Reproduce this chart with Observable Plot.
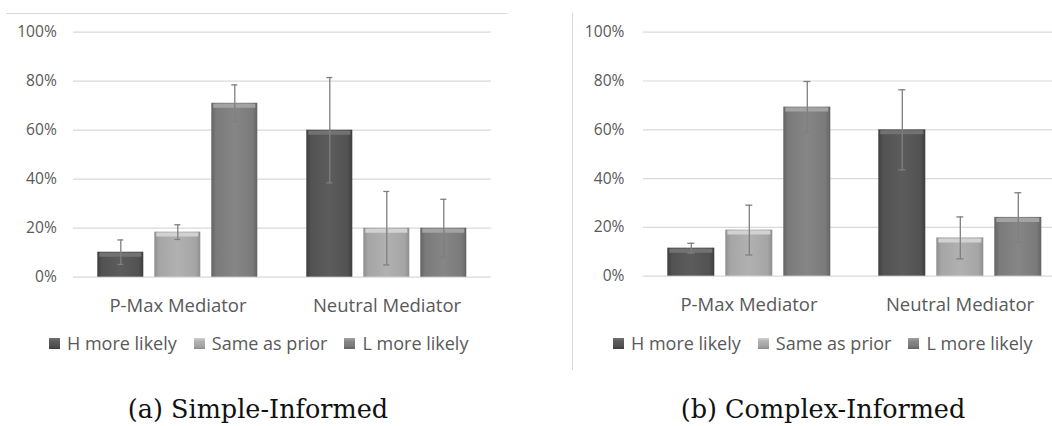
<!DOCTYPE html>
<html>
<head>
<meta charset="utf-8">
<script src="https://cdn.jsdelivr.net/npm/d3@7"></script>
<script src="https://cdn.jsdelivr.net/npm/@observablehq/plot@0.6"></script>
<style>
  html, body { margin: 0; padding: 0; background: #fff; }
  body { width: 1052px; height: 426px; overflow: hidden; position: relative; font-family: 'Open Sans', sans-serif; }
  .panel { position: absolute; top: 0; }
  .panel svg { max-width: none !important; display: block; }
  .frame-h { position: absolute; left: 6px; top: 13px; width: 501px; height: 1px; background: #d9d9d9; }
  .frame-v { position: absolute; left: 572px; top: 13px; width: 1px; height: 357px; background: #d9d9d9; }
  .legend { position: absolute; top: 331px; height: 24px; display: flex; align-items: flex-start; font-size: 18px; line-height: 24px; color: #595959; white-space: nowrap; }
  .legend .item { display: flex; align-items: flex-start; margin-right: 17px; }
  .legend .sw { width: 11px; height: 11px; margin-top: 7px; margin-right: 7px; }
  .caption { position: absolute; top: 394px; width: 420px; text-align: center; font-family: 'DejaVu Serif', serif; font-size: 25.5px; line-height: 30px; color: #111; white-space: nowrap; }
  svg [aria-label^="fx-axis"] text { font-size: 18.5px; }
  svg [aria-label^="y-axis"] text { font-size: 15.6px; }
</style>
</head>
<body>
<div class="frame-h"></div>
<div class="frame-v"></div>
<script>
// ---- data ----
const groups = ["P-Max Mediator", "Neutral Mediator"];
const series = ["H more likely", "Same as prior", "L more likely"];
// values in %, ordered group by group, series within group
const simpleValues = [10.2, 18.4, 71, 60, 20, 20];
const simpleErrors = [5, 3, 7.5, 21.5, 15, 11.8];
const complexValues = [11.5, 18.9, 69.3, 60, 15.7, 24.1];
const complexErrors = [2, 10.2, 10.5, 16.4, 8.6, 10.1];
const yTicks = [0, 20, 40, 60, 80, 100];
const captions = ["(a) Simple-Informed", "(b) Complex-Informed"];

// ---- styles ----
const edgeCol = ["#3e3e3e", "#8e8e8e", "#636363"];
const baseCol = ["#525252", "#a5a5a5", "#7a7a7a"];
const midCol  = ["#5c5c5c", "#b1b1b1", "#868686"];
const bevelCol = ["#727272", "#d2d2d2", "#a3a3a3"];

function rows(values, errors) {
  return groups.flatMap((g, gi) => series.map((s, si) => ({
    group: g, series: s, value: values[gi * 3 + si], err: errors[gi * 3 + si]
  })));
}

function chart(values, errors, m, id) {
  const data = rows(values, errors);
  const fills = series.map((s, i) => `url(#${id}-g${i})`);
  const svg = Plot.plot({
    width: m.width, height: 330,
    marginLeft: m.left, marginRight: m.right, marginTop: m.top, marginBottom: m.bottom,
    style: { fontFamily: "'Open Sans', sans-serif", fontSize: "15.6px", color: "#595959", background: "transparent", overflow: "visible", maxWidth: "none" },
    fx: { domain: groups, padding: 0, axis: "bottom", tickSize: 0, tickPadding: 22, label: null },
    x: { domain: series, paddingInner: 0.185, paddingOuter: m.po, axis: null },
    y: { domain: [0, 100], ticks: yTicks, tickFormat: d => d + "%", tickSize: 0, tickPadding: m.pad, label: null },
    color: { domain: series, range: fills },
    marks: [
      Plot.ruleY(yTicks, { stroke: "#d9d9d9", strokeWidth: 1.2 }),
      Plot.barY(data, { fx: "group", x: "series", y: "value", fill: "series" }),
      ...series.map((s, i) => Plot.tickY(data.filter(d => d.series === s), {
        fx: "group", x: "series", y: "value", stroke: bevelCol[i], strokeWidth: 4, dy: 2.5, inset: 2
      })),
      Plot.ruleX(data, { fx: "group", x: "series", y1: d => d.value - d.err, y2: d => d.value + d.err, stroke: "#7f7f7f", strokeWidth: 1.3 }),
      Plot.tickY(data, { fx: "group", x: "series", y: d => d.value + d.err, stroke: "#7f7f7f", strokeWidth: 1.3, inset: 20 }),
      Plot.tickY(data, { fx: "group", x: "series", y: d => d.value - d.err, stroke: "#7f7f7f", strokeWidth: 1.3, inset: 20 })
    ]
  });
  const defs = series.map((s, i) =>
    `<linearGradient id="${id}-g${i}" x1="0" x2="1" y1="0" y2="0">
      <stop offset="0" stop-color="${edgeCol[i]}"/>
      <stop offset="0.1" stop-color="${baseCol[i]}"/>
      <stop offset="0.5" stop-color="${midCol[i]}"/>
      <stop offset="0.9" stop-color="${baseCol[i]}"/>
      <stop offset="1" stop-color="${edgeCol[i]}"/>
    </linearGradient>`).join("");
  d3.select(svg).insert("defs", ":first-child").html(defs);
  return svg;
}

function legend(left) {
  const div = document.createElement("div");
  div.className = "legend";
  div.style.left = left + "px";
  series.forEach((s, i) => {
    const item = document.createElement("div");
    item.className = "item";
    const sw = document.createElement("div");
    sw.className = "sw";
    sw.style.background = `linear-gradient(to bottom, ${bevelCol[i]} 0%, ${midCol[i]} 30%, ${baseCol[i]} 70%, ${edgeCol[i]} 100%)`;
    const t = document.createElement("span");
    t.textContent = s;
    item.appendChild(sw); item.appendChild(t);
    div.appendChild(item);
  });
  document.body.appendChild(div);
}

function caption(text, center) {
  const div = document.createElement("div");
  div.className = "caption";
  div.style.left = (center - 210) + "px";
  div.textContent = text;
  document.body.appendChild(div);
}

const left = document.createElement("div");
left.className = "panel"; left.style.left = "0px"; left.style.width = "530px";
left.appendChild(chart(simpleValues, simpleErrors, { width: 530, left: 72.7, right: 38, top: 31.7, bottom: 53.3, pad: 16.7, po: 0.41 }, "a"));
document.body.appendChild(left);

const right = document.createElement("div");
right.className = "panel"; right.style.left = "530px"; right.style.width = "540px";
right.appendChild(chart(complexValues, complexErrors, { width: 540, left: 111.7, right: 4.5, top: 31.7, bottom: 54.3, pad: 19, po: 0.40 }, "b"));
document.body.appendChild(right);

legend(49);
legend(613);
caption(captions[0], 258);
caption(captions[1], 823);
</script>
</body>
</html>
